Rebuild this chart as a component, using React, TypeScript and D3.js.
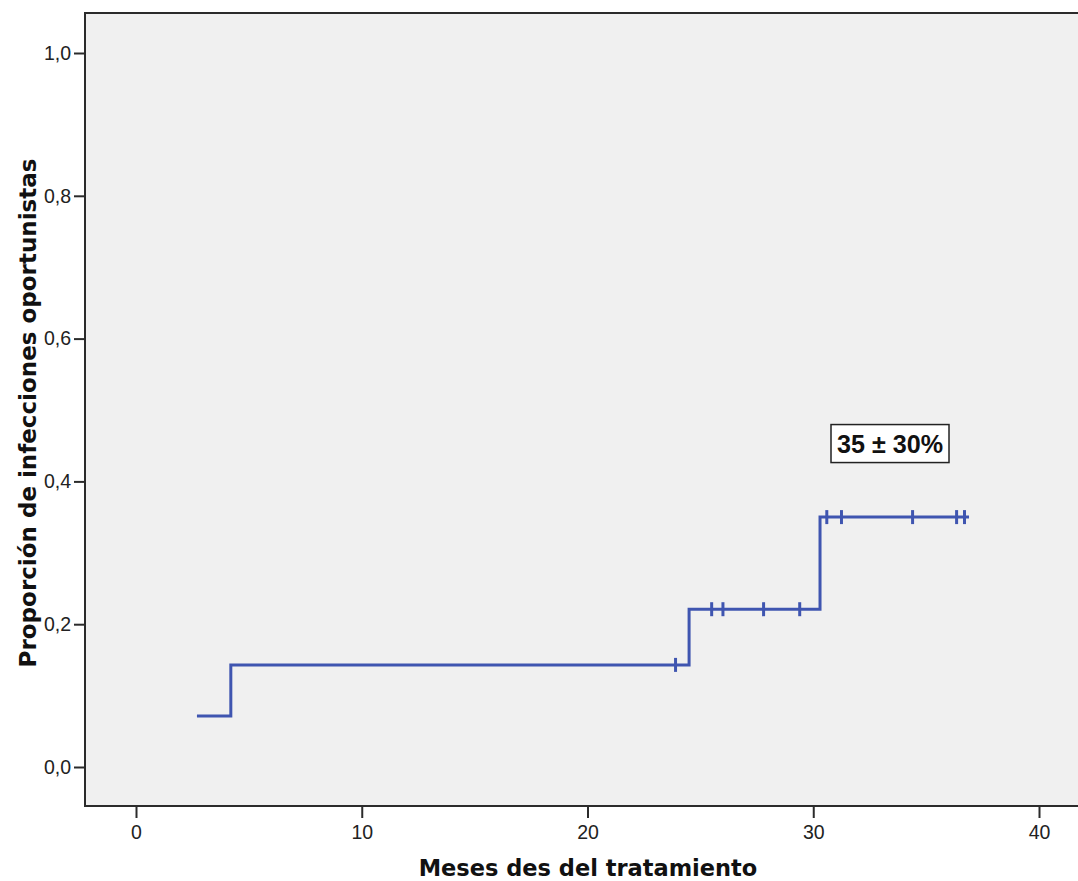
import React, { useEffect, useRef } from 'react';
import * as d3 from 'd3';

// Kaplan-Meier style cumulative curve
const stepTimes = [2.7, 4.2, 24.5, 30.3, 36.9];
const stepValues = [0.0714, 0.143, 0.221, 0.35, 0.35];
const censorTimes = [23.9, 25.5, 26.0, 27.8, 29.4, 30.6, 31.25, 34.4, 36.35, 36.7];
const xTicks = [0, 10, 20, 30, 40];
const yTicks = [0, 0.2, 0.4, 0.6, 0.8, 1.0];
const annotation = '35 ± 30%';
const annotationAt = [33.4, 0.453];

const App = () => {
    const ref = useRef<SVGSVGElement>(null);

    useEffect(() => {
        const svg = d3.select(ref.current);
        svg.selectAll('*').remove();

        const width = 1078, height = 881;
        const plot = { left: 85, top: 13, right: 1080, bottom: 806 };
        const tickFont = 'Liberation Sans, Arial, sans-serif';

        const x = d3.scaleLinear().domain([0, 40]).range([136, 1039]);
        const y = d3.scaleLinear().domain([0, 1]).range([767, 53]);

        // plot background + frame
        svg.append('rect')
            .attr('x', plot.left).attr('y', plot.top)
            .attr('width', plot.right - plot.left).attr('height', plot.bottom - plot.top)
            .attr('fill', '#f0f0f0')
            .attr('stroke', '#2b2b2b').attr('stroke-width', 2);

        // y axis ticks
        const yAxis = svg.append('g')
            .attr('transform', 'translate(' + plot.left + ',0)')
            .call(d3.axisLeft(y).tickValues(yTicks).tickSize(11).tickSizeOuter(0)
                .tickFormat(d => d3.format('.1f')(d as number).replace('.', ',')));
        yAxis.select('.domain').remove();
        yAxis.attr('font-size', null).attr('font-family', null);
        yAxis.selectAll('line').attr('stroke', '#2b2b2b').attr('stroke-width', 2);
        yAxis.selectAll('text')
            .style('font-family', tickFont)
            .style('font-size', '19.5px').attr('fill', '#222').attr('x', -14);

        // x axis ticks
        const xAxis = svg.append('g')
            .attr('transform', 'translate(0,' + plot.bottom + ')')
            .call(d3.axisBottom(x).tickValues(xTicks).tickSize(12).tickSizeOuter(0));
        xAxis.select('.domain').remove();
        xAxis.attr('font-size', null).attr('font-family', null);
        xAxis.selectAll('line').attr('stroke', '#2b2b2b').attr('stroke-width', 2);
        xAxis.selectAll('text')
            .style('font-family', tickFont)
            .style('font-size', '19.5px').attr('fill', '#222').attr('y', 19);

        // step line
        const pts: [number, number][] = stepTimes.map((t, i) => [t, stepValues[i]]);
        const line = d3.line<[number, number]>()
            .x(d => x(d[0])).y(d => y(d[1]))
            .curve(d3.curveStepAfter);
        svg.append('path')
            .datum(pts)
            .attr('d', line)
            .attr('fill', 'none')
            .attr('stroke', '#3f55b0')
            .attr('stroke-width', 3);

        // censor marks
        const levelAt = (t: number) => {
            let v = stepValues[0];
            stepTimes.forEach((s, i) => { if (t >= s) v = stepValues[i]; });
            return v;
        };
        svg.append('g').selectAll('line')
            .data(censorTimes)
            .enter()
            .append('line')
                .attr('x1', d => x(d)).attr('x2', d => x(d))
                .attr('y1', d => y(levelAt(d)) - 7)
                .attr('y2', d => y(levelAt(d)) + 7)
                .attr('stroke', '#3f55b0')
                .attr('stroke-width', 3);

        // annotation box
        const ann = svg.append('g')
            .attr('transform', 'translate(' + x(annotationAt[0]) + ',' + y(annotationAt[1]) + ')');
        ann.append('rect')
            .attr('x', -59).attr('y', -19).attr('width', 118).attr('height', 38)
            .attr('fill', '#fff').attr('stroke', '#222').attr('stroke-width', 1.5);
        ann.append('text')
            .attr('text-anchor', 'middle').attr('dy', '0.36em')
            .attr('font-family', 'Liberation Sans Narrow, Liberation Sans, Arial, sans-serif')
            .attr('font-weight', 'bold').attr('font-size', 26)
            .attr('textLength', 106).attr('lengthAdjust', 'spacingAndGlyphs')
            .attr('fill', '#111')
            .text(annotation);

        // axis titles
        svg.append('text')
            .attr('x', 588).attr('y', 876)
            .attr('text-anchor', 'middle')
            .attr('font-family', 'DejaVu Sans, sans-serif')
            .attr('font-weight', 'bold').attr('font-size', 22.5)
            .attr('fill', '#111')
            .text('Meses des del tratamiento');

        svg.append('text')
            .attr('transform', 'translate(36,413) rotate(-90)')
            .attr('text-anchor', 'middle')
            .attr('font-family', 'DejaVu Sans, sans-serif')
            .attr('font-weight', 'bold').attr('font-size', 23)
            .attr('fill', '#111')
            .text('Proporción de infecciones oportunistas');

        svg.attr('width', width).attr('height', height);
    }, []);

    return (
        <svg ref={ref} width={1078} height={881}
            style={{ position: 'absolute', left: 0, top: 0, background: '#fff' }} />
    );
};

export default App;
